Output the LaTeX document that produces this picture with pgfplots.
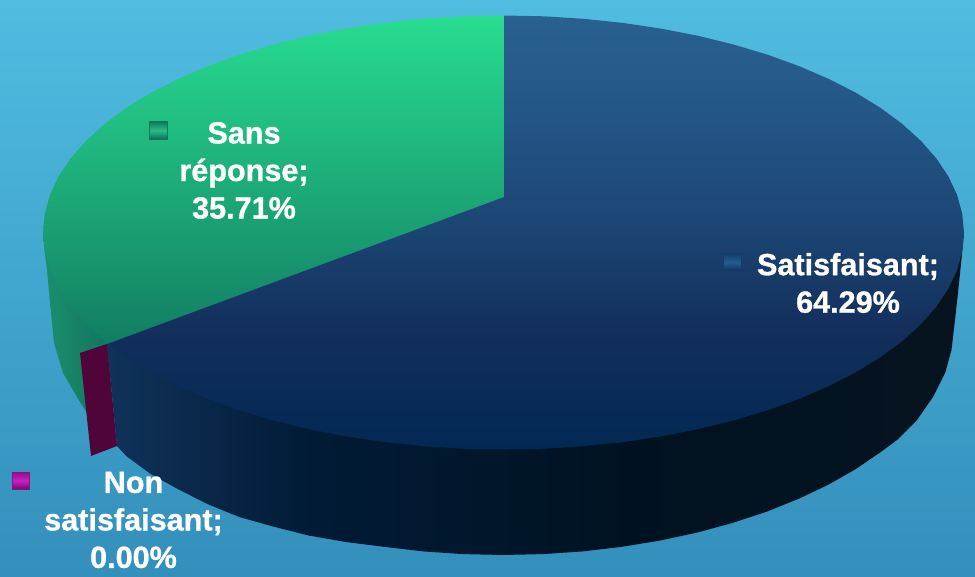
\documentclass[border=0pt]{standalone}
\usepackage{fontspec}
\setmainfont{Liberation Sans}[BoldFeatures={FakeBold=0.9}]
\usepackage{pgfplots}
\pgfplotsset{compat=1.18}
\definecolor{bgT}{HTML}{50BCE0}
\definecolor{bgB}{HTML}{338FBB}
\definecolor{grT}{HTML}{28DD90}
\definecolor{grB}{HTML}{127D62}
\definecolor{maroon}{HTML}{50053A}
\definecolor{sgA}{HTML}{1C8F6C}
\definecolor{sgB}{HTML}{117460}
\definecolor{sbA}{HTML}{10325A}
\definecolor{sbB}{HTML}{011B36}
\definecolor{sbC}{HTML}{001221}
\definecolor{sbD}{HTML}{071420}
\definecolor{kbA}{HTML}{123F68}
\definecolor{kbB}{HTML}{245E8E}
\definecolor{kbC}{HTML}{0C3058}
\definecolor{kgA}{HTML}{0E785A}
\definecolor{kgB}{HTML}{2ABE88}
\definecolor{kgC}{HTML}{0E6852}
\definecolor{kmA}{HTML}{8C1082}
\definecolor{kmB}{HTML}{CC20C4}
\definecolor{kmC}{HTML}{780A6E}
\definecolor{s1}{HTML}{022953}
\definecolor{s2}{HTML}{052A55}
\definecolor{s3}{HTML}{0C2C58}
\definecolor{s4}{HTML}{132F5C}
\definecolor{s5}{HTML}{1B4472}
\definecolor{s6}{HTML}{235587}
\definecolor{s7}{HTML}{2A6191}
\pgfdeclareverticalshading{bluepie}{100bp}{color(0bp)=(s1); color(25bp)=(s1); color(28.5bp)=(s2); color(33bp)=(s3); color(38.8bp)=(s4); color(50bp)=(s5); color(63bp)=(s6); color(75bp)=(s7); color(100bp)=(s7)}
\begin{document}
\begin{tikzpicture}
\begin{axis}[
  hide axis, scale only axis, width=975pt, height=577pt,
  xmin=0, xmax=975, ymin=0, ymax=577, y dir=reverse, clip=true]
% background
\addplot[draw=none, top color=bgT, bottom color=bgB] coordinates {(0,0)(975,0)(975,577)(0,577)} -- cycle;
% side: Sans reponse
\addplot[draw=none, left color=sgA, right color=sgB] coordinates {
(43,232.5)(44.5,250)(47,270)(50,303)(54,343)(63,373)(77,397)(87,413)(110,400)(110,232.5)} -- cycle;
% side: Satisfaisant, left part
\addplot[draw=none, left color=sbA, right color=sbB] coordinates {
(107,344)(309.5,344)(309.5,536)(308.6,535.5)(273,526.5)(239.2,517)(207.3,504)(177.7,489)(150.6,474)(126.2,456)(117,446)} -- cycle;
% side: Satisfaisant, right part
\addplot[draw=none, left color=sbB, right color=sbD, middle color=sbC] coordinates {
(308.6,344)(964,232.5)(961.7,257)(958.3,290)(955,320)(951.5,350)(945.5,372)(933,397)(917,420)(897,440)(879.8,452.7)(855.4,469.3)(828.3,484.7)(798.7,498.8)(766.8,511.6)(733,522.8)(697.4,532.5)(660.3,540.5)(622.1,546.8)(582.9,551.4)(543.1,554.1)(503,555)(462.9,554.1)(423.1,551.4)(383.9,546.8)(345.7,542)(308.6,535.5)} -- cycle;
% side: Non satisfaisant
\addplot[draw=none, fill=maroon] coordinates {(80,353)(107,344)(117,446)(91,456)} -- cycle;
% top: Sans reponse
\addplot[draw=none, top color=grT, bottom color=grB] coordinates {
(504,197)(107,344)(104.7,341)(86.1,324.2)(70.8,306.7)(58.7,288.7)(50,270.2)(44.8,251.4)(43,232.5)(44.8,213.6)(50,194.8)(58.7,176.3)(70.8,158.3)(86.1,140.8)(104.7,124)(126.3,108)(150.7,93)(177.9,79.1)(207.5,66.3)(239.4,54.7)(273.2,44.6)(308.9,35.8)(346,28.6)(384.3,22.9)(423.6,18.8)(463.3,16.3)(504,15.5)} -- cycle;
% top: Satisfaisant
\addplot[draw=none, shading=bluepie] coordinates {
(504,15.5)(543.7,16.3)(583.4,18.8)(622.7,22.9)(661,28.6)(698.1,35.8)(733.8,44.6)(767.6,54.7)(799.5,66.3)(829.1,79.1)(856.3,93)(880.7,108)(902.3,124)(920.9,140.8)(936.2,158.3)(948.3,176.3)(957,194.8)(962.2,213.6)(964,232.5)(962.2,251.4)(957,270.2)(948.3,288.7)(936.2,306.7)(920.9,324.2)(902.3,341)(880.7,357)(856.3,372)(829.1,385.9)(799.5,398.7)(767.6,410.3)(733.8,420.4)(698.1,429.2)(661,436.4)(622.7,442.1)(583.4,446.2)(543.7,448.7)(503.5,449.5)(463.3,448.7)(423.6,446.2)(384.3,442.1)(346,436.4)(308.9,429.2)(273.2,420.4)(239.4,410.3)(207.5,398.7)(177.9,385.9)(150.7,372)(126.3,357)(107,344)(504,197)} -- cycle;
% legend keys
\addplot[draw=kbA, line width=0.5pt, top color=kbA, bottom color=kbC, middle color=kbB] coordinates {(723.5,253.5)(741.5,253.5)(741.5,271.5)(723.5,271.5)} -- cycle;
\addplot[draw=kgA, line width=0.5pt, top color=kgA, bottom color=kgC, middle color=kgB] coordinates {(149.5,121.5)(167.5,121.5)(167.5,139.5)(149.5,139.5)} -- cycle;
\addplot[draw=kmA, line width=0.5pt, top color=kmA, bottom color=kmC, middle color=kmB] coordinates {(12.5,472)(29.5,472)(29.5,489)(12.5,489)} -- cycle;
% labels
\node[text=white, align=center, font=\fontsize{30.6}{37.5}\selectfont\bfseries] at (axis cs:848,283) {Satisfaisant;\\64.29\%};
\node[text=white, align=center, font=\fontsize{30.6}{37.5}\selectfont\bfseries] at (axis cs:244,170.5) {Sans\\réponse;\\35.71\%};
\node[text=white, align=center, font=\fontsize{30.6}{37.5}\selectfont\bfseries] at (axis cs:133.5,520) {Non\\satisfaisant;\\0.00\%};
\end{axis}
\end{tikzpicture}
\end{document}
